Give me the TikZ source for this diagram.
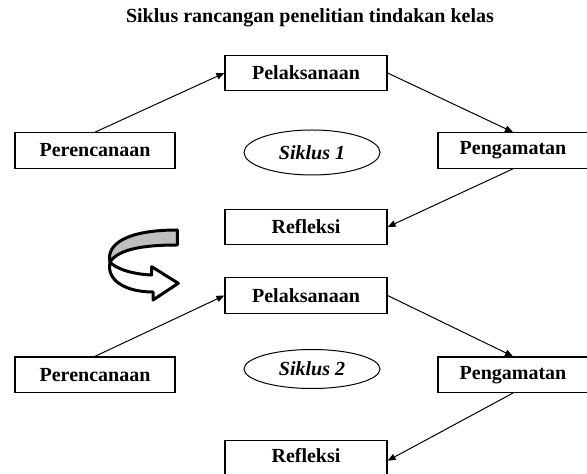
\documentclass[tikz,border=0pt]{standalone}
\usepackage{fontspec}
\setmainfont{Liberation Serif}
\usetikzlibrary{arrows.meta,shapes.geometric}
\begin{document}
\begin{tikzpicture}[x=0.5pt,y=-0.5pt,
  box/.style={draw,line width=0.6pt,minimum height=17.75pt,inner sep=0pt,font=\bfseries\fontsize{10}{12}\selectfont},
  cyc/.style={draw,ellipse,line width=0.5pt,inner sep=0pt,font=\bfseries\itshape\fontsize{10}{12}\selectfont},
  link/.style={line width=0.5pt,-{Triangle[length=4pt,width=3.2pt]}},
  ribbon/.style={line width=1.5pt,line join=round}]
\useasboundingbox (0,0) rectangle (587,474);
\node[font=\bfseries\fontsize{10}{12}\selectfont] (title) at (310,18) {Siklus rancangan penelitian tindakan kelas};
% cycle 1
\node[box,minimum width=81pt] (pel1) at (306,73) {Pelaksanaan};
\node[box,minimum width=80pt] (per1) at (95,150.5) {Perencanaan};
\node[box,minimum width=75pt] (peng1) at (513,150.5) {Pengamatan};
\node[box,minimum width=81pt] (ref1) at (306,227) {Refleksi};
\node[cyc,minimum width=68pt,minimum height=22.5pt] (s1) at (312,152.5) {Siklus 1};
\draw[link] (per1.north) -- (pel1.west);
\draw[link] (pel1.east) -- (peng1.north);
\draw[link] (peng1.south) -- (ref1.east);
% cycle 2
\node[box,minimum width=81pt] (pel2) at (306,295.5) {Pelaksanaan};
\node[box,minimum width=80pt] (per2) at (95,374.7) {Perencanaan};
\node[box,minimum width=75pt] (peng2) at (513,374.7) {Pengamatan};
\node[box,minimum width=81pt,minimum height=20pt,text depth=5pt] (ref2) at (306,460.7) {Refleksi};
\node[cyc,minimum width=68pt,minimum height=19.5pt] (s2) at (312,369) {Siklus 2};
\draw[link] (per2.north) -- (pel2.west);
\draw[link] (pel2.east) -- (peng2.north);
\draw[link] (peng2.south) -- (ref2.east);
% curved arrow between cycles
\draw[ribbon,fill=black!25] (177.3,230) -- (177.3,245)
  .. controls (140,245) and (118,250) .. (110,262)
  .. controls (106,245) and (125,230) .. (177.3,230) -- cycle;
\draw[ribbon,fill=white] (110,262)
  .. controls (106,280) and (125,292) .. (153,292)
  -- (153,300) -- (178.3,283.3) -- (151.7,266.7) -- (151.5,275)
  .. controls (130,274) and (115,268) .. (110,262) -- cycle;
\end{tikzpicture}
\end{document}
